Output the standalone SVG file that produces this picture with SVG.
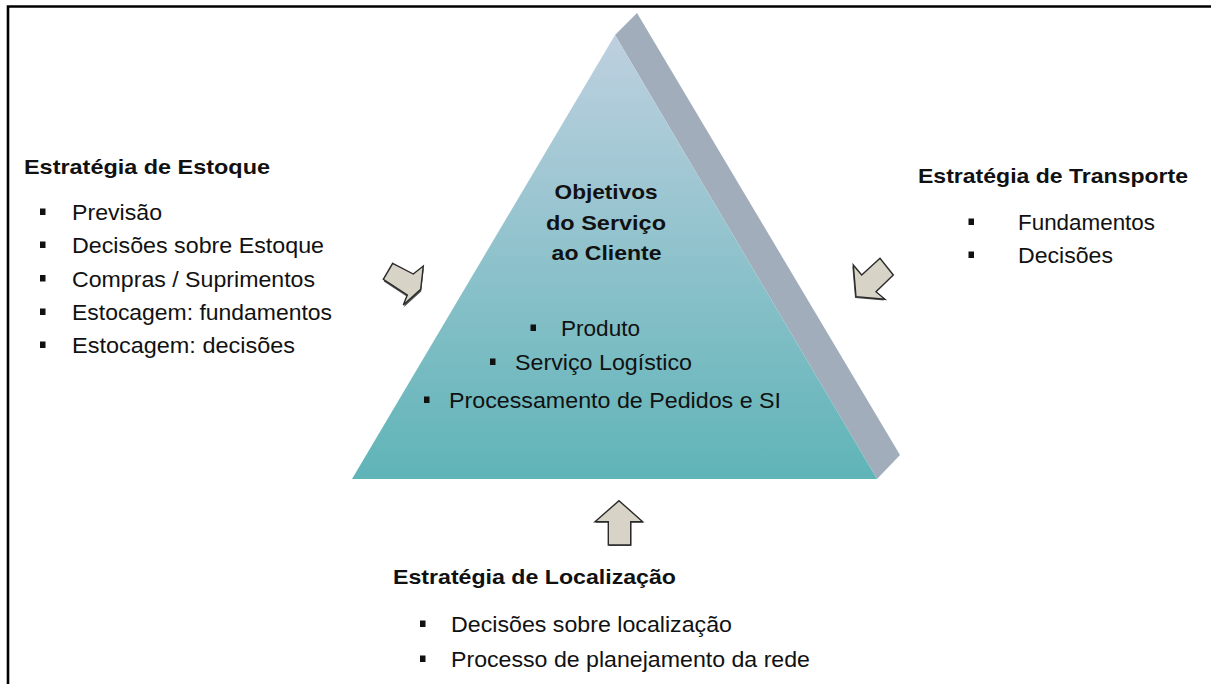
<svg xmlns="http://www.w3.org/2000/svg" width="1211" height="684" viewBox="0 0 1211 684">
<defs>
<linearGradient id="front" x1="0" y1="35" x2="0" y2="479" gradientUnits="userSpaceOnUse">
<stop offset="0" stop-color="#BED0E0"/>
<stop offset="1" stop-color="#5FB4B7"/>
</linearGradient>
<style>
.t{font-family:"Liberation Sans",Arial,sans-serif;font-size:21.5px;fill:#111;}
.b{font-weight:bold;font-size:21px;}
.bul{fill:#111;}
.arr{fill:#D8D3C7;stroke:#2a2a2a;stroke-width:1.4;stroke-linejoin:miter;}
.sh{fill:#555;}
</style>
</defs>
<rect x="0" y="0" width="1211" height="684" fill="#fff"/>
<g id="border" fill="none" stroke="#000" stroke-width="2.6">
<path d="M1211,6.5 H8 V684"/>
</g>
<g id="pyramid">
<polygon points="615,35 637,13 900,455 877,479" fill="#A1ADBA"/>
<polygon points="615,35 352,479 877,479" fill="url(#front)"/>
<text class="t b" x="554.6" y="199" textLength="103" lengthAdjust="spacingAndGlyphs">Objetivos</text>
<text class="t b" x="546" y="230" textLength="120" lengthAdjust="spacingAndGlyphs">do Serviço</text>
<text class="t b" x="551.6" y="260" textLength="110" lengthAdjust="spacingAndGlyphs">ao Cliente</text>
<rect class="bul" x="530.5" y="324.5" width="5.5" height="6.5"/>
<text class="t" x="561" y="336" textLength="79" lengthAdjust="spacingAndGlyphs">Produto</text>
<rect class="bul" x="490" y="358.5" width="5.5" height="6.5"/>
<text class="t" x="515" y="370" textLength="177" lengthAdjust="spacingAndGlyphs">Serviço Logístico</text>
<rect class="bul" x="424" y="396.5" width="5.5" height="6.5"/>
<text class="t" x="449" y="408" textLength="332" lengthAdjust="spacingAndGlyphs">Processamento de Pedidos e SI</text>
</g>
<g id="estoque">
<text class="t b" x="24" y="174" textLength="246" lengthAdjust="spacingAndGlyphs">Estratégia de Estoque</text>
<rect class="bul" x="40" y="208.5" width="5.5" height="6.5"/>
<text class="t" x="72" y="220" textLength="90" lengthAdjust="spacingAndGlyphs">Previsão</text>
<rect class="bul" x="40" y="241.5" width="5.5" height="6.5"/>
<text class="t" x="72" y="253" textLength="252" lengthAdjust="spacingAndGlyphs">Decisões sobre Estoque</text>
<rect class="bul" x="40" y="275" width="5.5" height="6.5"/>
<text class="t" x="72" y="286.5" textLength="243" lengthAdjust="spacingAndGlyphs">Compras / Suprimentos</text>
<rect class="bul" x="40" y="308.5" width="5.5" height="6.5"/>
<text class="t" x="72" y="320" textLength="260" lengthAdjust="spacingAndGlyphs">Estocagem: fundamentos</text>
<rect class="bul" x="40" y="341.5" width="5.5" height="6.5"/>
<text class="t" x="72" y="353" textLength="223" lengthAdjust="spacingAndGlyphs">Estocagem: decisões</text>
</g>
<g id="transporte">
<text class="t b" x="918" y="183" textLength="270" lengthAdjust="spacingAndGlyphs">Estratégia de Transporte</text>
<rect class="bul" x="968.5" y="218.5" width="5.5" height="6.5"/>
<text class="t" x="1018" y="230" textLength="137" lengthAdjust="spacingAndGlyphs">Fundamentos</text>
<rect class="bul" x="968.5" y="251.5" width="5.5" height="6.5"/>
<text class="t" x="1018" y="263" textLength="95" lengthAdjust="spacingAndGlyphs">Decisões</text>
</g>
<g id="localizacao">
<text class="t b" x="393" y="583.5" textLength="283" lengthAdjust="spacingAndGlyphs">Estratégia de Localização</text>
<rect class="bul" x="420" y="620.5" width="5.5" height="6.5"/>
<text class="t" x="451" y="632" textLength="281" lengthAdjust="spacingAndGlyphs">Decisões sobre localização</text>
<rect class="bul" x="420" y="655.5" width="5.5" height="6.5"/>
<text class="t" x="451" y="667" textLength="359" lengthAdjust="spacingAndGlyphs">Processo de planejamento da rede</text>
</g>
<g id="connectors">
<g id="arrow-left">
<polygon class="sh" points="392.7,264.8 413.3,275.5 423.3,267.5 420.7,290.8 403.3,306.5 407.3,296.5 383.3,280.8" transform="translate(0.5,0.8)"/>
<polygon class="arr" points="392.7,263.3 413.3,274 423.3,266 420.7,289.3 403.3,305 407.3,295 383.3,279.3"/>
</g>
<g id="arrow-right">
<polygon class="sh" points="853.3,265 861.7,275 880,258.3 893.3,275 876,291.7 885,299.3 856,296.7" transform="translate(-1,1.2)"/>
<polygon class="arr" points="853.3,265 861.7,275 880,258.3 893.3,275 876,291.7 885,299.3 856,296.7"/>
</g>
<g id="arrow-up">
<polygon class="sh" points="619,500.7 642.7,521.7 630.7,521.7 630.7,545 608.3,545 608.3,521.7 595,521.7" transform="translate(0.6,1)"/>
<polygon class="arr" points="619,500.7 642.7,521.7 630.7,521.7 630.7,545 608.3,545 608.3,521.7 595,521.7"/>
</g>
</g>
</svg>
